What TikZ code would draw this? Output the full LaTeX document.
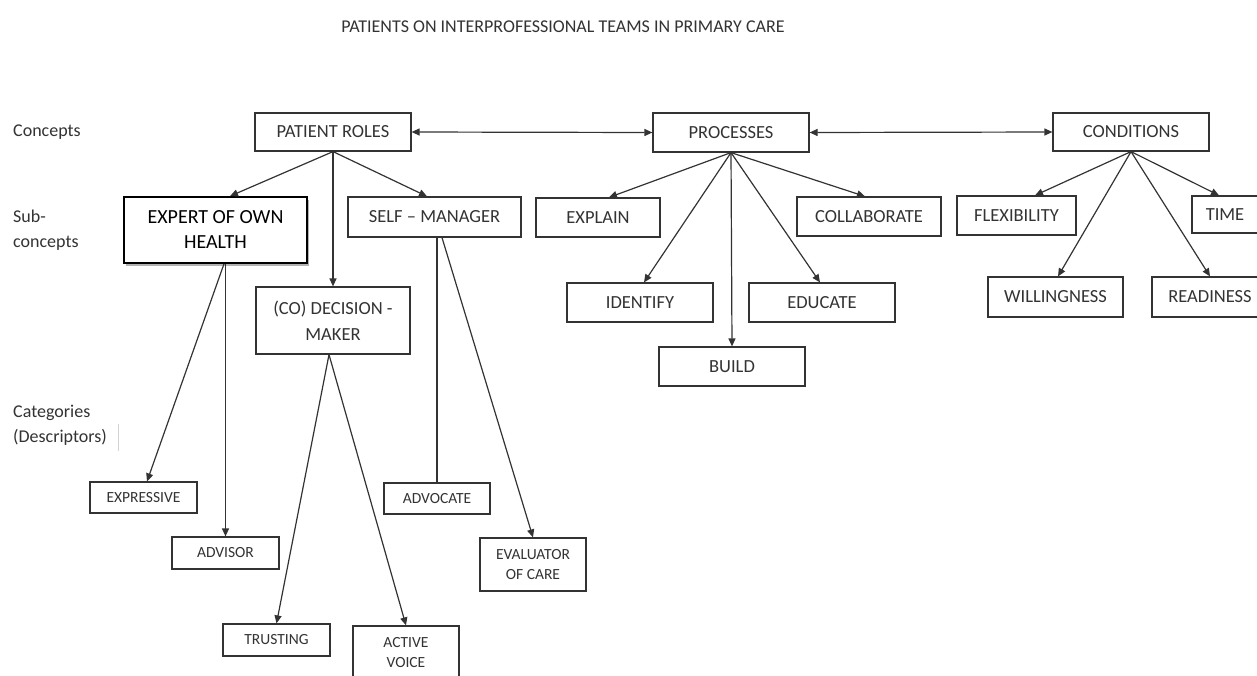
\documentclass[tikz,border=0pt]{standalone}
\usepackage{fontspec}
\setmainfont{Carlito}
\usetikzlibrary{arrows.meta,shadows}
\definecolor{ink}{HTML}{333333}
\definecolor{lineC}{HTML}{333333}
\begin{document}
\begin{tikzpicture}[x=1pt,y=-1pt,
  box/.style={draw=lineC, line width=1.2pt, inner sep=0pt, text=ink, align=center, fill=white,
              font=\fontsize{18.5}{26}\selectfont},
  smallbox/.style={box, font=\fontsize{15.5}{20}\selectfont},
  lbl/.style={inner sep=0pt, text=ink, align=left, anchor=west,
              font=\fontsize{18}{25}\selectfont},
  arr/.style={draw=lineC, line width=1.2pt, -{Triangle[length=8pt,width=7pt]}},
  darr/.style={draw=lineC, line width=1.2pt, {Triangle[length=8pt,width=7pt]}-{Triangle[length=8pt,width=7pt]}},
  plain/.style={draw=lineC, line width=1.2pt}]
\useasboundingbox (0,0) rectangle (1257,675);
\fill[white] (0,0) rectangle (1257,675);

% title
\node[inner sep=0pt, text=ink, font=\fontsize{18}{22}\selectfont] (title) at (563,27)
  {PATIENTS ON INTERPROFESSIONAL TEAMS IN PRIMARY CARE};

% row labels
\node[lbl] (lconc) at (13,132) {Concepts};
\node[lbl] (lsub) at (13,230.5) {Sub-\\concepts};
\node[lbl] (lcat) at (13,425.5) {Categories\\(Descriptors)};
\coordinate (barTop) at (118,424);
\coordinate (barBot) at (118,451);
\draw[gray!35, line width=0.8pt] (barTop) -- (barBot);

% concepts
\node[box, minimum width=156pt, minimum height=38pt] (pr) at (333,132) {PATIENT ROLES};
\node[box, minimum width=156pt, minimum height=39pt] (proc) at (731,132.5) {PROCESSES};
\node[box, minimum width=156pt, minimum height=38pt] (cond) at (1131,132) {CONDITIONS};

% sub-concepts
\node[box, draw=black, line width=1.7pt, text=black, font=\fontsize{20}{25}\selectfont,
      drop shadow={shadow xshift=1.5pt, shadow yshift=-2.5pt, fill=gray, opacity=0.6},
      minimum width=183pt, minimum height=66pt] (expert) at (215.5,230) {EXPERT OF OWN\\HEALTH};
\node[box, minimum width=173pt, minimum height=40pt] (self) at (434.5,217) {SELF -- MANAGER};
\node[box, minimum width=154pt, minimum height=67pt] (dec) at (333,320.5) {(CO) DECISION -\\MAKER};
\node[box, minimum width=124pt, minimum height=39pt] (explain) at (598,217.5) {EXPLAIN};
\node[box, minimum width=146pt, minimum height=39pt] (identify) at (640,302.5) {IDENTIFY};
\node[box, minimum width=146pt, minimum height=39pt] (build) at (732,366.5) {BUILD};
\node[box, minimum width=146pt, minimum height=39pt] (educate) at (822,302.5) {EDUCATE};
\node[box, minimum width=144pt, minimum height=39pt] (collab) at (869,216.5) {COLLABORATE};
\node[box, minimum width=119pt, minimum height=39pt] (flex) at (1016.5,215.5) {FLEXIBILITY};
\node[box, minimum width=66pt, minimum height=37pt] (time) at (1225,214.5) {TIME};
\node[box, minimum width=135pt, minimum height=40pt] (will) at (1055.5,297) {WILLINGNESS};
\node[box, minimum width=116pt, minimum height=40pt] (ready) at (1210,297) {READINESS};

% categories
\node[smallbox, minimum width=107pt, minimum height=31pt] (expressive) at (143.5,497.5) {EXPRESSIVE};
\node[smallbox, minimum width=107pt, minimum height=32pt] (advisor) at (225.5,553) {ADVISOR};
\node[smallbox, minimum width=107pt, minimum height=32pt] (trusting) at (276.5,640) {TRUSTING};
\node[smallbox, minimum width=106pt, minimum height=53pt] (active) at (406,652.5) {ACTIVE\\VOICE};
\node[smallbox, minimum width=106pt, minimum height=31pt] (advocate) at (437,498.5) {ADVOCATE};
\node[smallbox, minimum width=106pt, minimum height=53pt] (evaluator) at (533,564.5) {EVALUATOR\\OF CARE};

% concept links
\draw[darr] (pr.east) -- (proc.west);
\draw[darr] (proc.east) -- (cond.west);

% patient roles
\draw[arr] (pr.south) -- ([xshift=14.5pt]expert.north);
\draw[arr] (pr.south) -- (dec.north);
\draw[arr] (pr.south) -- ([xshift=-7.5pt]self.north);

% processes
\draw[arr] (proc.south) -- ([xshift=11pt]explain.north);
\draw[arr] (proc.south) -- ([xshift=4pt]identify.north);
\draw[arr] (proc.south) -- (build.north);
\draw[arr] (proc.south) -- ([xshift=-2pt]educate.north);
\draw[arr] (proc.south) -- ([xshift=-4pt]collab.north);

% conditions
\draw[arr] (cond.south) -- ([xshift=18.5pt]flex.north);
\draw[arr] (cond.south) -- ([xshift=2.5pt]will.north);
\draw[arr] (cond.south) -- (ready.north);
\draw[arr] (cond.south) -- ([xshift=-6pt]time.north);

% categories links
\draw[arr] ([xshift=8.5pt]expert.south) -- ([xshift=3.5pt]expressive.north);
\draw[arr] (expert.south -| advisor.north) -- (advisor.north);
\draw[arr] ([xshift=-4pt]dec.south) -- (trusting.north);
\draw[arr] ([xshift=-4pt]dec.south) -- (active.north);
\draw[plain] (self.south -| advocate.north) -- (advocate.north);
\draw[arr] ([xshift=7.5pt]self.south) -- (evaluator.north);
\end{tikzpicture}
\end{document}
